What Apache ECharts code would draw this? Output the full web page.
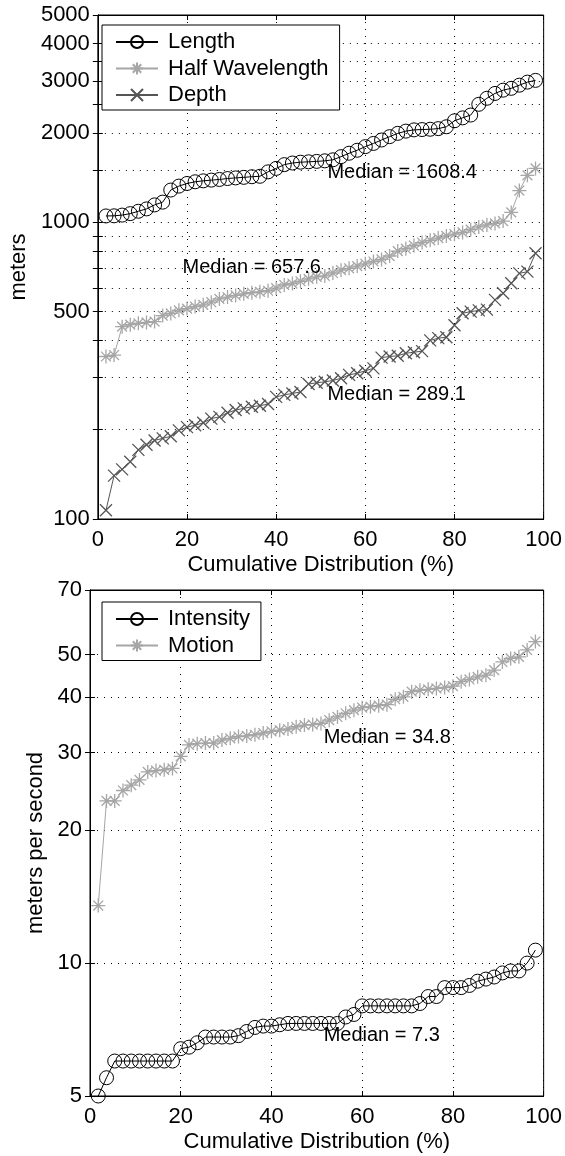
<!DOCTYPE html>
<html>
<head>
<meta charset="utf-8">
<script src="https://cdn.jsdelivr.net/npm/echarts@6/dist/echarts.min.js"></script>
<style>
  html, body { margin: 0; padding: 0; background: #fff; }
  #chart { width: 565px; height: 1156px; }
</style>
</head>
<body>
<div id="chart"></div>
<script>
// cumulative distribution (%) of each sorted sample
const percent = [1.82, 3.64, 5.45, 7.27, 9.09, 10.91, 12.73, 14.55, 16.36, 18.18,
    20.00, 21.82, 23.64, 25.45, 27.27, 29.09, 30.91, 32.73, 34.55, 36.36,
    38.18, 40.00, 41.82, 43.64, 45.45, 47.27, 49.09, 50.91, 52.73, 54.55,
    56.36, 58.18, 60.00, 61.82, 63.64, 65.45, 67.27, 69.09, 70.91, 72.73,
    74.55, 76.36, 78.18, 80.00, 81.82, 83.64, 85.45, 87.27, 89.09, 90.91,
    92.73, 94.55, 96.36, 98.18]

// upper panel (meters)
const lengthVals = [1051, 1052, 1058, 1070, 1090, 1110, 1145, 1170, 1285, 1325,
    1352, 1370, 1380, 1388, 1395, 1405, 1412, 1418, 1425, 1430,
    1480, 1520, 1565, 1585, 1595, 1600, 1605, 1612, 1625, 1665,
    1710, 1750, 1800, 1845, 1895, 1945, 1995, 2030, 2050, 2055,
    2060, 2070, 2100, 2200, 2250, 2300, 2500, 2620, 2720, 2790,
    2830, 2900, 2970, 3010]
const halfWaveVals = [353, 357, 445, 452, 457, 460, 463, 485, 493, 505,
    512, 520, 527, 538, 552, 560, 567, 574, 579, 583,
    588, 600, 615, 622, 633, 645, 655, 660, 675, 690,
    700, 712, 725, 738, 750, 770, 800, 815, 835, 855,
    870, 885, 900, 912, 925, 945, 965, 980, 992, 1010,
    1080, 1280, 1440, 1520]
const depthVals = [107, 140, 147, 156, 171, 178, 184, 187, 190, 199,
    204, 207, 211, 218, 221, 228, 233, 236, 239, 241,
    244, 258, 262, 265, 268, 285, 288, 290, 293, 298,
    306, 310, 316, 322, 350, 353, 355, 362, 365, 368,
    400, 407, 410, 450, 494, 500, 505, 508, 548, 577,
    623, 673, 682, 787]

// lower panel (meters per second)
const intensityVals = [5.0, 5.5, 6.0, 6.0, 6.0, 6.0, 6.0, 6.0, 6.0, 6.0,
    6.4, 6.45, 6.6, 6.8, 6.8, 6.8, 6.8, 6.85, 7.0, 7.15,
    7.2, 7.2, 7.25, 7.3, 7.3, 7.3, 7.3, 7.3, 7.3, 7.3,
    7.55, 7.65, 8.0, 8.0, 8.0, 8.0, 8.0, 8.0, 8.0, 8.1,
    8.4, 8.4, 8.8, 8.8, 8.8, 8.9, 9.1, 9.2, 9.3, 9.5,
    9.6, 9.6, 10.0, 10.7]
const motionVals = [13.5, 23.3, 23.3, 24.6, 25.3, 26.0, 27.1, 27.3, 27.4, 27.6,
    29.4, 31.2, 31.4, 31.5, 31.5, 32.0, 32.3, 32.6, 32.7, 32.9,
    33.2, 33.5, 33.7, 33.9, 34.3, 34.6, 34.7, 34.9, 35.5, 36.1,
    36.8, 37.4, 37.9, 38.1, 38.3, 38.5, 39.6, 40.1, 41.2, 41.5,
    41.7, 41.9, 42.1, 42.4, 43.4, 43.9, 44.5, 44.9, 46.1, 48.1,
    49.0, 49.4, 51.2, 53.5]

// ticks / grid lines and labelled ticks
const topTicks = [100, 200, 300, 400, 500, 600, 700, 800, 900, 1000,
    1500, 2000, 2500, 3000, 3500, 4000, 5000]
const topLabels = [100, 500, 1000, 2000, 3000, 4000, 5000]
const bottomTicks = [5, 10, 20, 30, 40, 50, 70]
const bottomLabels = [5, 10, 20, 30, 40, 50, 70]

const medianTexts = ['Median = 1608.4', 'Median = 657.6', 'Median = 289.1',
    'Median = 34.8', 'Median = 7.3']

const FONT = '"Liberation Sans", Arial, Helvetica, sans-serif'
const dotted = {color: '#000', width: 1, type: [1, 6]}
const ASTERISK = 'path://M0,-10L0,10M-10,0L10,0M-7,-7L7,7M-7,7L7,-7'
const CROSS = 'path://M-10,-10L10,10M-10,10L10,-10'

const pairs = (vals) => percent.map((p, i) => [p, vals[i]])

const xAxisFor = (gridIndex, top) => ({
    type: 'value', gridIndex: gridIndex, min: 0, max: 100, interval: 20,
    position: top ? 'top' : 'bottom',
    name: top ? '' : 'Cumulative Distribution (%)',
    nameLocation: 'middle', nameGap: 35,
    nameTextStyle: {fontSize: 22, fontFamily: FONT, color: '#000'},
    axisLine: {show: true, onZero: false, lineStyle: {color: '#000', width: 1}},
    axisTick: {show: true, inside: true, length: 5, lineStyle: {color: '#000'}},
    axisLabel: {show: !top, margin: 10, fontSize: 22, fontFamily: FONT, color: '#000'},
    splitLine: {show: !top, lineStyle: dotted},
})

const yAxisFor = (gridIndex, right, min, max, ticks, labels, name, gap) => ({
    type: 'log', logBase: 10, gridIndex: gridIndex, min: min, max: max,
    position: right ? 'right' : 'left',
    name: right ? '' : name,
    nameLocation: 'middle', nameGap: gap,
    nameTextStyle: {fontSize: 22, fontFamily: FONT, color: '#000'},
    axisLine: {show: true, lineStyle: {color: '#000', width: 1}},
    axisTick: {show: true, inside: true, length: 5, customValues: ticks, lineStyle: {color: '#000'}},
    axisLabel: {show: !right, customValues: labels, margin: 8, fontSize: 22, fontFamily: FONT,
        color: '#000', formatter: (v) => String(v)},
    splitLine: {show: !right, lineStyle: dotted},
})

const medianMark = (text, x, y) => ({
    symbol: 'circle', symbolSize: 0, silent: true,
    data: [{coord: [x, y]}],
    label: {show: true, position: 'right', distance: 0, formatter: text,
        fontSize: 20, fontFamily: FONT, color: '#000'},
})

const lineSeries = (name, vals, axis, symbol, size, color, median) => ({
    name: name, type: 'line', data: pairs(vals),
    xAxisIndex: axis, yAxisIndex: axis,
    symbol: symbol, symbolSize: size, showAllSymbol: true,
    lineStyle: {color: color, width: 1},
    itemStyle: symbol === 'circle'
        ? {color: 'transparent', borderColor: color, borderWidth: 1}
        : {color: color, borderColor: color, borderWidth: 1.3},
    emphasis: {disabled: true},
    markPoint: median,
    z: 3,
})

const legendFor = (names, top) => ({
    data: names, orient: 'vertical', left: 102, top: top,
    itemWidth: 42, itemHeight: 15, itemGap: 4.5,
    padding: [6, 11, 4, 13],
    backgroundColor: '#fff', borderColor: '#000', borderWidth: 1,
    textStyle: {fontSize: 22, fontFamily: FONT, color: '#000', padding: [0, 0, 0, 5]},
    selectedMode: false, z: 10,
})

const chart = echarts.init(document.getElementById('chart'))

const option = {
    animation: false,
    backgroundColor: '#fff',
    textStyle: {fontFamily: FONT},
    grid: [
        {left: 90, top: 15, width: 456, height: 504, show: true, borderColor: '#000', borderWidth: 1},
        {left: 90, top: 590, width: 456, height: 506, show: true, borderColor: '#000', borderWidth: 1},
    ],
    legend: [
        legendFor(['Length', 'Half Wavelength', 'Depth'], 25),
        legendFor(['Intensity', 'Motion'], 602),
    ],
    xAxis: [xAxisFor(0, false), xAxisFor(0, true), xAxisFor(1, false), xAxisFor(1, true)],
    yAxis: [
        yAxisFor(0, false, 100, 5000, topTicks, topLabels, 'meters', 64),
        yAxisFor(0, true, 100, 5000, topTicks, topLabels),
        yAxisFor(1, false, 5, 70, bottomTicks, bottomLabels, 'meters per second', 37),
        yAxisFor(1, true, 5, 70, bottomTicks, bottomLabels),
    ],
    series: [
        lineSeries('Length', lengthVals, 0, 'circle', 14, '#000', medianMark(medianTexts[0], 51.5, 1470)),
        lineSeries('Half Wavelength', halfWaveVals, 0, ASTERISK, 14, '#a6a6a6', medianMark(medianTexts[1], 19, 707)),
        lineSeries('Depth', depthVals, 0, CROSS, 12, '#555', medianMark(medianTexts[2], 51.5, 262)),
        lineSeries('Intensity', intensityVals, 2, 'circle', 14, '#000', medianMark(medianTexts[4], 51.5, 6.87)),
        lineSeries('Motion', motionVals, 2, ASTERISK, 14, '#a6a6a6', medianMark(medianTexts[3], 51.5, 32.5)),
    ],
}
chart.setOption(option)
</script>
</body>
</html>
